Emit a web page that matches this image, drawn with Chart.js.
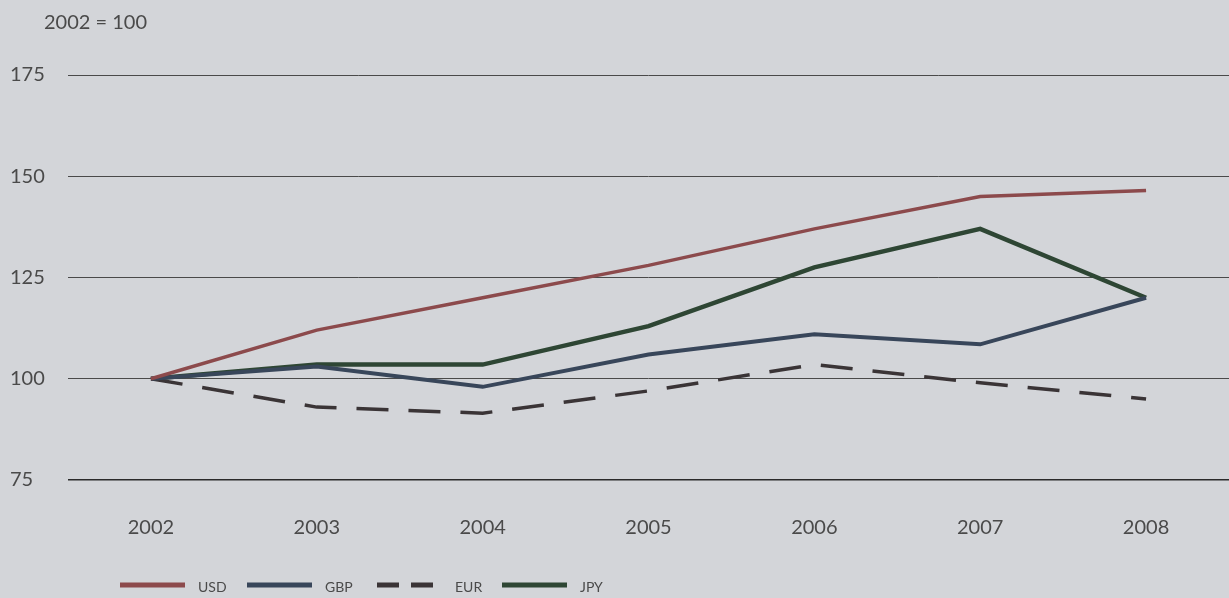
<!DOCTYPE html>
<html>
<head>
<meta charset="utf-8">
<script src="https://cdn.jsdelivr.net/npm/chart.js@4/dist/chart.umd.min.js"></script>
<style>
  html, body { margin: 0; padding: 0; background: #d3d5d9; }
  #wrap { width: 1229px; height: 598px; position: relative; }
</style>
</head>
<body>
<div id="wrap"><canvas id="chart" width="1229" height="598"></canvas></div>
<script>
const years = ["2002", "2003", "2004", "2005", "2006", "2007", "2008"]
const usd = [100, 112, 120, 128, 137, 145, 146.5]
const gbp = [100, 103, 98, 106, 111, 108.5, 120]
const eur = [100, 93, 91.5, 97, 103.5, 99, 95]
const jpy = [100, 103.5, 103.5, 113, 127.5, 137, 120]
const yTicks = [75, 100, 125, 150, 175]
const unitLabel = "2002 = 100"

const textColor = "#4a4a4a"
const fontFamily = "Lato, 'Open Sans', sans-serif"

// background, unit label and the legend row along the bottom
const decor = {
    id: "decor",
    beforeDraw(chart) {
        const ctx = chart.ctx
        ctx.save()
        ctx.fillStyle = "#d3d5d9"
        ctx.fillRect(0, 0, chart.width, chart.height)
        ctx.restore()
    },
    afterDraw(chart) {
        const ctx = chart.ctx
        ctx.save()
        ctx.fillStyle = textColor
        ctx.font = "20px " + fontFamily
        ctx.textBaseline = "middle"
        ctx.fillText(unitLabel, 44, 23)

        const lx = [120, 247, 377, 502]
        ctx.font = "14px " + fontFamily
        chart.data.datasets.forEach((ds, i) => {
            const x = lx[i]
            const y = 585
            ctx.strokeStyle = ds.borderColor
            ctx.lineWidth = 5
            ctx.setLineDash(ds.borderDash && ds.borderDash.length ? [22, 12] : [])
            ctx.beginPath()
            ctx.moveTo(x, y)
            ctx.lineTo(x + 65, y)
            ctx.stroke()
            ctx.setLineDash([])
            ctx.fillStyle = textColor
            ctx.fillText(ds.label, x + 78, y + 2)
        })
        ctx.restore()
    }
}

const chart = new Chart(document.getElementById("chart"), {
    type: "line",
    data: {
        labels: years,
        datasets: [
            { label: "USD", data: usd, borderColor: "#8c4a4c", borderWidth: 3.5 },
            { label: "GBP", data: gbp, borderColor: "#38465a", borderWidth: 4 },
            { label: "EUR", data: eur, borderColor: "#3a3436", borderWidth: 3.5, borderDash: [32, 20] },
            { label: "JPY", data: jpy, borderColor: "#2e4634", borderWidth: 4.5 },
        ],
    },
    options: {
        responsive: false,
        animation: false,
        devicePixelRatio: 1,
        layout: { padding: { top: 75, right: 0, left: 10, bottom: 0 } },
        elements: { point: { radius: 0 }, line: { tension: 0, fill: false } },
        plugins: { legend: { display: false }, tooltip: { enabled: false }, title: { display: false } },
        scales: {
            x: {
                offset: true,
                grid: { display: false },
                border: { display: false },
                ticks: { color: textColor, font: { family: fontFamily, size: 20 }, padding: 28, maxRotation: 0 },
                afterFit(scale) { scale.height = 118 },
            },
            y: {
                min: 75,
                max: 175,
                afterBuildTicks(scale) { scale.ticks = yTicks.map(v => ({ value: v })) },
                grid: {
                    color: ctx => ctx.tick && ctx.tick.value === 75 ? "#2a2a2a" : "#4a4a4a",
                    lineWidth: ctx => ctx.tick && ctx.tick.value === 75 ? 1.6 : 1,
                    drawTicks: false,
                },
                border: { display: false },
                ticks: {
                    color: textColor,
                    font: { family: fontFamily, size: 20 },
                    crossAlign: "far",
                    padding: 10,
                },
                afterFit(scale) { scale.width = 58 },
            },
        },
    },
    plugins: [decor],
});
</script>
</body>
</html>
